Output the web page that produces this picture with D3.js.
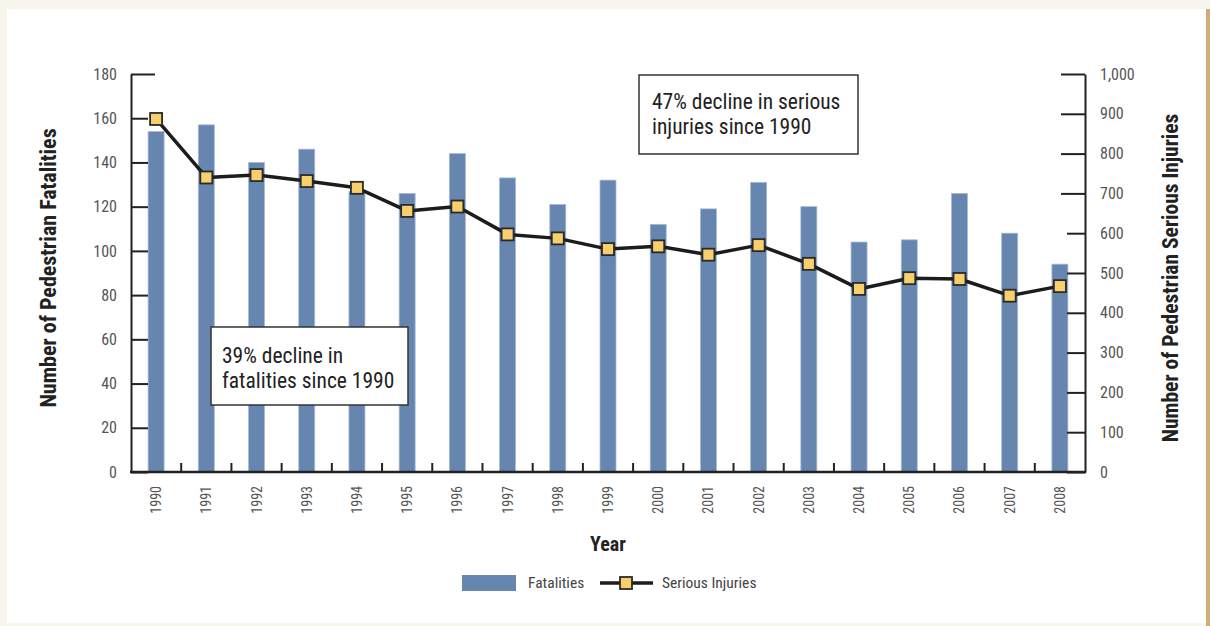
<!DOCTYPE html>
<html>
<head>
<meta charset="utf-8">
<script src="https://cdn.jsdelivr.net/npm/d3@7"></script>
<style>
  html, body { margin: 0; padding: 0; background: #f8f5ec; }
  svg { display: block; }
</style>
</head>
<body>
<svg id="chart" width="1210" height="626"></svg>
<script>
// Pedestrian fatalities and serious injuries, 1990–2008
const years = ["1990","1991","1992","1993","1994","1995","1996","1997","1998","1999",
               "2000","2001","2002","2003","2004","2005","2006","2007","2008"];
const fatalities = [154, 157, 140, 146, 127, 126, 144, 133, 121, 132,
                    112, 119, 131, 120, 104, 105, 126, 108, 94];
const seriousInjuries = [887, 740, 746, 731, 714, 656, 667, 597, 587, 560,
                         567, 546, 570, 523, 460, 487, 485, 443, 467];
const leftTicks = [0, 20, 40, 60, 80, 100, 120, 140, 160, 180];
const rightTicks = [0, 100, 200, 300, 400, 500, 600, 700, 800, 900, 1000];
const notes = [
  ["39% decline in", "fatalities since 1990"],
  ["47% decline in serious", "injuries since 1990"]
];

const FONT = '"Liberation Sans Narrow", "Roboto Condensed", "Arial Narrow", "Liberation Sans", sans-serif';
const svg = d3.select("#chart");

// page frame
svg.append("rect").attr("x", 0).attr("y", 0).attr("width", 1210).attr("height", 626).attr("fill", "#f8f5ec");
svg.append("rect").attr("x", 7).attr("y", 9).attr("width", 1199).attr("height", 614).attr("fill", "#ffffff");
svg.append("rect").attr("x", 1206).attr("y", 9).attr("width", 4).attr("height", 617).attr("fill", "#d2ad79");

const plot = { left: 131, right: 1085, top: 74, bottom: 472 };

const x = d3.scaleBand().domain(years).range([plot.left, plot.right]).padding(0);
const yL = d3.scaleLinear().domain([0, 180]).range([plot.bottom, plot.top]);
const yR = d3.scaleLinear().domain([0, 1000]).range([plot.bottom, plot.top]);
const barW = 16;

// bars
svg.append("g").selectAll("rect").data(years).join("rect")
  .attr("x", d => x(d) + x.bandwidth() / 2 - barW / 2)
  .attr("y", (d, i) => yL(fatalities[i]))
  .attr("width", barW)
  .attr("height", (d, i) => yL(0) - yL(fatalities[i]))
  .attr("fill", "#6685af")
  .attr("stroke", "#a7bbd5")
  .attr("stroke-width", 0.8);

// left axis
const gL = svg.append("g").attr("transform", `translate(${plot.left},0)`)
  .call(d3.axisLeft(yL).tickValues(leftTicks).tickSizeInner(-17).tickSizeOuter(0).tickPadding(14));
gL.select(".domain").attr("stroke", "#222").attr("stroke-width", 2);
gL.selectAll(".tick line").attr("stroke", "#222").attr("stroke-width", 2)
  .attr("x2", d => d === 180 ? 24 : 17);
gL.selectAll(".tick text").attr("font-family", FONT).attr("font-size", 16).attr("fill", "#555");

// right axis
const gR = svg.append("g").attr("transform", `translate(${plot.right},0)`)
  .call(d3.axisRight(yR).tickValues(rightTicks).tickSizeInner(-20).tickSizeOuter(0).tickPadding(15)
        .tickFormat(d3.format(",")));
gR.select(".domain").attr("stroke", "#222").attr("stroke-width", 2);
gR.selectAll(".tick line").attr("stroke", "#222").attr("stroke-width", 2)
  .attr("x2", d => d >= 700 ? -24 : -18);
gR.selectAll(".tick text").attr("font-family", FONT).attr("font-size", 16).attr("fill", "#555");

// x axis baseline, dividers and year labels
const gX = svg.append("g");
gX.append("line").attr("x1", plot.left - 1).attr("x2", plot.right + 1)
  .attr("y1", plot.bottom).attr("y2", plot.bottom).attr("stroke", "#222").attr("stroke-width", 2.5);
gX.selectAll(".div").data(years.slice(1)).join("line")
  .attr("x1", d => x(d)).attr("x2", d => x(d))
  .attr("y1", plot.bottom).attr("y2", plot.bottom - 9)
  .attr("stroke", "#222").attr("stroke-width", 2);
gX.selectAll(".yr").data(years).join("text")
  .attr("transform", d => `translate(${x(d) + x.bandwidth() / 2},486) rotate(-90)`)
  .attr("text-anchor", "end")
  .attr("dominant-baseline", "central")
  .attr("font-family", FONT).attr("font-size", 14).attr("fill", "#555")
  .text(d => d);

// serious injuries line with square markers
const line = d3.line()
  .x((d, i) => x(years[i]) + x.bandwidth() / 2)
  .y(d => yR(d));
svg.append("path").datum(seriousInjuries).attr("d", line)
  .attr("fill", "none").attr("stroke", "#1c1c1c").attr("stroke-width", 3.5).attr("stroke-linejoin", "round");
const mk = 12;
svg.append("g").selectAll("rect").data(seriousInjuries).join("rect")
  .attr("x", (d, i) => x(years[i]) + x.bandwidth() / 2 - mk / 2)
  .attr("y", d => yR(d) - mk / 2)
  .attr("width", mk).attr("height", mk)
  .attr("fill", "#f8cf6d").attr("stroke", "#2a2a2a").attr("stroke-width", 1.8);

// annotation boxes
const boxes = [
  { x: 211, y: 327, w: 197, h: 78, tx: 222, lines: notes[0], base: 363 },
  { x: 639, y: 75, w: 219, h: 79, tx: 652, lines: notes[1], base: 109 }
];
boxes.forEach(b => {
  svg.append("rect").attr("x", b.x).attr("y", b.y).attr("width", b.w).attr("height", b.h)
    .attr("fill", "#fff").attr("stroke", "#333").attr("stroke-width", 1.5);
  b.lines.forEach((t, i) => {
    svg.append("text").attr("x", b.tx).attr("y", b.base + i * 25)
      .attr("font-family", FONT).attr("font-size", 21.5).attr("fill", "#222").text(t);
  });
});

// axis titles
svg.append("text").attr("transform", "translate(56,268) rotate(-90)")
  .attr("text-anchor", "middle").attr("font-family", FONT).attr("font-weight", "bold")
  .attr("font-size", 22).attr("fill", "#222").text("Number of Pedestrian Fatalities");
svg.append("text").attr("transform", "translate(1178,278) rotate(-90)")
  .attr("text-anchor", "middle").attr("font-family", FONT).attr("font-weight", "bold")
  .attr("font-size", 21.5).attr("fill", "#222").text("Number of Pedestrian Serious Injuries");
svg.append("text").attr("x", 608).attr("y", 551)
  .attr("text-anchor", "middle").attr("font-family", FONT).attr("font-weight", "bold")
  .attr("font-size", 20).attr("fill", "#222").text("Year");

// legend
const lg = svg.append("g");
lg.append("rect").attr("x", 462).attr("y", 575).attr("width", 54).attr("height", 16).attr("fill", "#6685af");
lg.append("text").attr("x", 528).attr("y", 588).attr("font-family", FONT).attr("font-size", 15.5)
  .attr("fill", "#444").text("Fatalities");
lg.append("line").attr("x1", 600).attr("x2", 653).attr("y1", 583).attr("y2", 583)
  .attr("stroke", "#1c1c1c").attr("stroke-width", 3.5);
lg.append("rect").attr("x", 620).attr("y", 577).attr("width", 12).attr("height", 12)
  .attr("fill", "#f8cf6d").attr("stroke", "#2a2a2a").attr("stroke-width", 1.8);
lg.append("text").attr("x", 662).attr("y", 588).attr("font-family", FONT).attr("font-size", 15.5)
  .attr("fill", "#444").text("Serious Injuries");
</script>
</body>
</html>
